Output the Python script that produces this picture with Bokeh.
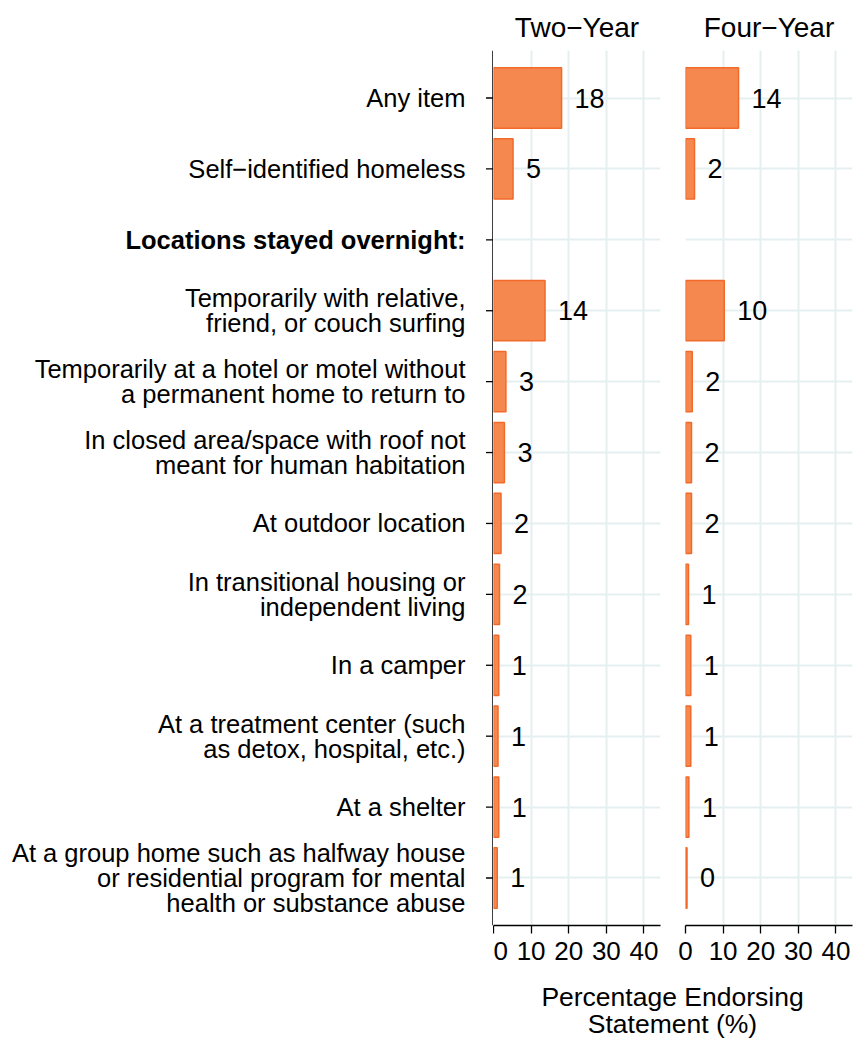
from bokeh.plotting import figure
from bokeh.models import Range1d, ColumnDataSource, FixedTicker
from bokeh.layouts import row, column
from bokeh.core.properties import value
from bokeh.embed import file_html
from bokeh.resources import INLINE

categories = [
    "Any item",
    "Self\u2212identified homeless",
    "Locations stayed overnight:",
    "Temporarily with relative,\nfriend, or couch surfing",
    "Temporarily at a hotel or motel without\na permanent home to return to",
    "In closed area/space with roof not\nmeant for human habitation",
    "At outdoor location",
    "In transitional housing or\nindependent living",
    "In a camper",
    "At a treatment center (such\nas detox, hospital, etc.)",
    "At a shelter",
    "At a group home such as halfway house\nor residential program for mental\nhealth or substance abuse",
]
category_styles = ["normal", "normal", "bold"] + ["normal"] * 9
two_year = [18.1, 5.2, None, 13.7, 3.3, 2.9, 2.0, 1.6, 1.4, 1.2, 1.4, 1.0]
four_year = [14.1, 2.4, None, 10.3, 1.8, 1.6, 1.6, 0.8, 1.4, 1.4, 0.9, 0.4]
panel_titles = ["Two\u2212Year", "Four\u2212Year"]
x_ticks = [0, 10, 20, 30, 40]
x_title = "Percentage Endorsing\nStatement (%)"

FONT = value("Liberation Sans")
FILL = "#F5884F"
EDGE = "#F26A2A"
GRID = "#E6EFEF"
TOP, BOTTOM, FRAME_W = 50, 45, 167
H = TOP + 875 + BOTTOM
LAB_W = 493
X_MAX = 44.4
positions = list(range(1, len(categories) + 1))
y_lo, y_hi = len(categories) + 0.67, 0.33
y_range = Range1d(start=y_lo, end=y_hi)


def base_fig(width, ml, mr, title=None, xr=None):
    p = figure(width=width, height=H, x_range=xr, y_range=y_range,
               output_backend="svg", toolbar_location=None,
               min_border_left=ml, min_border_right=mr,
               min_border_top=TOP, min_border_bottom=BOTTOM, title=title)
    p.outline_line_color = None
    p.background_fill_color = "white"
    p.border_fill_color = "white"
    return p


# label column (x in pixels), also carries the y axis line and its ticks
lab = base_fig(LAB_W, 0, 0, xr=Range1d(0, LAB_W))
lab.xaxis.visible = False
lab.yaxis.visible = False
lab.grid.visible = False
lab_src = ColumnDataSource(dict(y=positions, t=categories, s=category_styles,
                                x=[465] * len(categories)))
lab.text(x="x", y="y", text="t", source=lab_src, text_align="right",
         text_baseline="middle", text_font=FONT, text_font_size="25.5px",
         text_font_style="s", text_color="black", text_line_height=0.9)
lab.segment(x0=[LAB_W - 0.6], x1=[LAB_W - 0.6], y0=[y_lo], y1=[y_hi],
            line_color="black", line_width=1.3)
lab.segment(x0=[LAB_W - 7.5] * len(positions), x1=[LAB_W] * len(positions),
            y0=positions, y1=positions, line_color="black", line_width=1.3)


def panel(values, title, ml, mr):
    p = base_fig(ml + FRAME_W + mr, ml, mr, title=title, xr=Range1d(0, X_MAX))
    p.title.align = "center"
    p.title.text_font = "Liberation Sans"
    p.title.text_font_size = "28px"
    p.title.text_font_style = "normal"
    p.title.text_color = "black"
    p.title.standoff = 16
    ys = [y for y, v in zip(positions, values) if v is not None]
    vs = [v for v in values if v is not None]
    src = ColumnDataSource(dict(y=ys, v=vs, lab=[str(round(v)) for v in vs]))
    p.xgrid.ticker = FixedTicker(ticks=x_ticks)
    p.ygrid.ticker = FixedTicker(ticks=positions)
    p.grid.grid_line_color = GRID
    p.grid.grid_line_width = 2
    p.hbar(y="y", left=0, right="v", height=0.85, source=src,
           fill_color=FILL, line_color=EDGE, line_width=1.5)
    p.text(x="v", y="y", text="lab", source=src, x_offset=13,
           text_align="left", text_baseline="middle", text_font=FONT,
           text_font_size="27px", text_color="black")
    xa = p.xaxis[0]
    xa.ticker = FixedTicker(ticks=x_ticks)
    xa.major_label_text_font = "Liberation Sans"
    xa.major_label_text_font_size = "26px"
    xa.major_label_text_color = "black"
    xa.major_tick_out = 8
    xa.major_tick_in = 0
    xa.minor_tick_line_color = None
    xa.axis_line_color = "black"
    xa.major_tick_line_color = "black"
    xa.axis_line_width = 1.3
    xa.major_tick_line_width = 1.3
    xa.major_label_standoff = 8
    p.yaxis.visible = False
    return p


left = panel(two_year, panel_titles[0], 0, 12)
right = panel(four_year, panel_titles[1], 13, 2)

FOOT_H = 1038 - H
footer = figure(width=854, height=FOOT_H, x_range=Range1d(0, 854), y_range=Range1d(0, FOOT_H),
                output_backend="svg", toolbar_location=None,
                min_border_left=0, min_border_right=0,
                min_border_top=0, min_border_bottom=0)
footer.outline_line_color = None
footer.axis.visible = False
footer.grid.visible = False
footer.text(x=[672], y=[FOOT_H - 11], text=[x_title], text_align="center", text_baseline="top",
            text_font=FONT, text_font_size="26.5px", text_color="black",
            text_line_height=0.92)

layout = column(row(lab, left, right), footer)

with open("out.html", "w") as f:
    f.write(file_html(layout, INLINE))
